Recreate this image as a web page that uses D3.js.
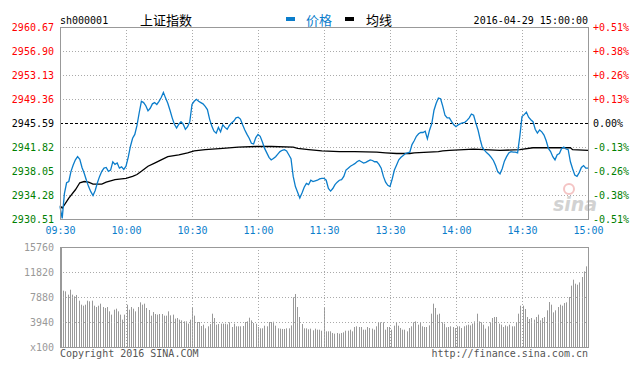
<!DOCTYPE html>
<html lang="zh-CN">
<head>
<meta charset="UTF-8">
<title>上证指数 分时</title>
<script src="https://cdn.jsdelivr.net/npm/d3@7"></script>
<style>
  body, html {margin: 0; padding: 0; background: #fff;}
  svg {display: block;}
  .mono {font-family: "DejaVu Sans Mono", monospace; font-size: 10px;}
  .cjk {font-family: "Noto Sans CJK SC", sans-serif; font-size: 13px;}
  .axis path.domain {display: none;}
</style>
</head>
<body>
<div id="chart"></div>
<script>
// price ticks (left) and percent labels (right)
const prevClose = 2945.59;
const priceTicks = [2960.67, 2956.90, 2953.13, 2949.36, 2945.59, 2941.82, 2938.05, 2934.28, 2930.51];
const pctLabels = ["+0.51%", "+0.38%", "+0.26%", "+0.13%", "0.00%", "-0.13%", "-0.26%", "-0.38%", "-0.51%"];

// time axis: minute index (0 = 09:30, 120 = 11:30/13:00, 240 = 15:00)
const timeTicks = [0, 30, 60, 90, 120, 150, 180, 210, 240];
const timeLabels = ["09:30", "10:00", "10:30", "11:00", "11:30", "13:30", "14:00", "14:30", "15:00"];

// volume ticks (x100)
const volTicks = [0, 3940, 7880, 11820, 15760];
const volLabels = ["x100", "3940", "7880", "11820", "15760"];

// minute price, 241 points
const price = [
  2932.5, 2930.6, 2934.5, 2936.2, 2936.4, 2938.0, 2939.0, 2939.8, 2940.3, 2939.9,
  2938.6, 2937.7, 2936.6, 2935.6, 2934.8, 2934.2, 2935.0, 2936.2, 2937.2, 2938.0,
  2938.5, 2938.6, 2938.0, 2938.2, 2939.5, 2939.1, 2939.3, 2938.5, 2938.7, 2938.3,
  2938.8, 2940.2, 2941.9, 2943.2, 2943.8, 2945.2, 2947.2, 2949.0, 2948.8, 2948.3,
  2947.5, 2947.9, 2948.6, 2948.8, 2948.5, 2949.0, 2949.6, 2950.4, 2949.5, 2948.7,
  2947.6, 2946.4, 2945.4, 2944.8, 2945.4, 2945.8, 2945.4, 2944.6, 2945.0, 2945.8,
  2948.5, 2949.0, 2949.3, 2949.0, 2948.8, 2948.6, 2948.2, 2947.7, 2946.2, 2945.1,
  2944.3, 2944.0, 2944.9, 2944.2, 2945.3, 2944.9, 2944.6, 2945.2, 2945.6, 2945.9,
  2946.4, 2946.5, 2946.2, 2945.3, 2944.5, 2943.8, 2943.2, 2942.4, 2942.3, 2943.3,
  2943.8, 2943.5, 2942.6, 2941.6, 2940.9, 2940.2, 2939.8, 2940.0, 2940.3, 2940.7,
  2941.1, 2941.3, 2941.4, 2941.2, 2940.6, 2940.0, 2937.2, 2935.6, 2934.7, 2933.8,
  2934.6, 2935.5, 2936.1, 2935.9, 2936.6, 2936.4, 2936.5, 2936.6, 2936.8, 2936.9,
  2936.9, 2936.6, 2935.3, 2934.9, 2935.3, 2935.9, 2936.3, 2936.6, 2936.7, 2937.2,
  2938.2, 2938.5, 2938.8, 2939.0, 2939.2, 2939.5, 2939.7, 2939.5, 2939.3, 2939.4,
  2939.6, 2939.8, 2939.7, 2939.5, 2939.5, 2939.1, 2938.5, 2937.2, 2936.3, 2935.8,
  2935.6, 2936.8, 2938.2, 2939.0, 2939.8, 2940.2, 2940.5, 2940.8, 2940.9, 2941.0,
  2942.2, 2942.8, 2943.5, 2943.9, 2944.1, 2944.1, 2944.3, 2943.1, 2944.5, 2945.5,
  2947.6, 2948.7, 2949.5, 2949.4, 2948.2, 2946.8, 2946.4, 2946.4, 2945.8, 2945.3,
  2945.0, 2945.3, 2945.5, 2945.6, 2945.7, 2946.0, 2946.4, 2947.0, 2946.8, 2945.6,
  2944.5, 2943.0, 2941.7, 2941.3, 2940.9, 2940.6, 2940.2, 2939.7, 2938.9, 2937.9,
  2937.6, 2938.4, 2939.6, 2940.3, 2940.9, 2941.1, 2941.0, 2941.0, 2940.9, 2943.5,
  2946.6, 2946.9, 2947.3, 2946.5, 2946.1, 2945.8, 2944.6, 2944.0, 2944.5, 2944.2,
  2943.7, 2942.8, 2941.6, 2941.1, 2940.3, 2939.8, 2940.6, 2940.8, 2941.6, 2941.8,
  2941.5, 2941.4, 2939.5, 2938.4, 2937.4, 2937.2, 2937.8, 2938.6, 2938.9, 2938.5, 2938.5
];

// average price line, read at a few minutes
const avgIdx = [0, 1, 4, 7, 9, 11, 13, 15, 19, 21, 25, 30, 33, 35, 37, 40, 43, 46, 49, 54, 58, 61, 66, 74, 81, 89, 96,
  106, 108, 113, 119, 127, 134, 144, 148, 153, 159, 161, 172, 174, 177, 188, 200, 209, 215, 232, 233, 240];
const avgVals = [2932.6, 2932.2, 2933.8, 2935.1, 2936.2, 2936.4, 2936.3, 2936.0, 2936.0, 2936.3, 2936.7, 2936.9, 2937.2, 2937.5,
  2938.0, 2938.8, 2939.3, 2939.8, 2940.3, 2940.6, 2940.9, 2941.2, 2941.4, 2941.6, 2941.8, 2941.9, 2941.9,
  2941.8, 2941.6, 2941.4, 2941.2, 2941.1, 2941.1, 2941.0, 2940.9, 2940.8, 2940.8, 2940.9, 2941.1, 2941.2,
  2941.3, 2941.5, 2941.3, 2941.4, 2941.7, 2941.7, 2941.4, 2941.3];

// minute volume (x100), 241 bars
const volume = [
  15760, 8880, 8770, 8250, 9030, 8250, 7990, 8200, 7300, 6670,
  6510, 6670, 7300, 7200, 7300, 6510, 6300, 6510, 6830, 6300,
  6150, 6300, 5620, 5100, 5880, 6040, 5620, 5100, 4310, 5100,
  6670, 5880, 6300, 6040, 5620, 6300, 7040, 6670, 6830, 6150,
  5830, 4940, 5510, 5200, 5100, 5200, 5200, 4940, 4940, 5620,
  4990, 5100, 4470, 4570, 4310, 4200, 4040, 4040, 3680, 4310,
  6300, 4940, 3940, 3940, 3310, 3520, 2940, 3260, 3620, 5250,
  4570, 3520, 3620, 3680, 3680, 3680, 3570, 3890, 3150, 3680,
  3260, 3260, 3260, 3310, 3940, 4040, 4620, 4200, 3780, 3680,
  3150, 2940, 2940, 3360, 3260, 3940, 3940, 3990, 3360, 2940,
  2890, 2840, 2840, 2940, 2940, 3410, 7830, 8350, 6300, 4730,
  3620, 2940, 2940, 2790, 2890, 2630, 2890, 2730, 2730, 2570,
  6200, 2470, 2470, 2470, 2210, 2100, 2210, 2100, 2210, 2310,
  2570, 2570, 2730, 2470, 3150, 3260, 3150, 3150, 2730, 2730,
  3150, 2990, 2890, 2730, 3260, 3890, 3890, 3890, 2730, 3150,
  3150, 2730, 3360, 3890, 3360, 2990, 2730, 2730, 2470, 2990,
  3260, 3890, 4040, 3520, 3780, 3260, 3150, 3150, 3410, 5250,
  6830, 6150, 5100, 5250, 3890, 3680, 3100, 3150, 3260, 3150,
  2990, 3260, 3260, 2990, 3260, 3410, 3520, 3410, 3680, 4040,
  5250, 4040, 3890, 3520, 2890, 3260, 3890, 4570, 4730, 4730,
  3680, 3520, 3150, 3410, 3260, 3520, 3260, 3260, 3890, 5250,
  6510, 6510, 5990, 4730, 4410, 4570, 4310, 4730, 5100, 4200,
  4570, 4730, 5780, 7090, 6670, 5460, 5780, 6300, 6670, 6510,
  6930, 7040, 7880, 9670, 10610, 9980, 9820, 10190, 11030, 11920,
  12710
];

const width = 644, height = 368;
const blue = "#0b7dcb", grid = "#aaa", frame = "#999";

const svg = d3.select("#chart").append("svg")
  .attr("width", width)
  .attr("height", height);

// scales
const x = d3.scaleLinear().domain([0, 240]).range([60, 588]);
const y = d3.scaleLinear().domain([2930.51, 2960.67]).range([219, 27]);
const xv = d3.scaleLinear().domain([0, 240]).range([61, 586]);
const yv = d3.scaleLinear().domain([0, 15760]).range([347, 247]);

const colorOf = v => v > prevClose + 0.001 ? "#f00" : (v < prevClose - 0.001 ? "#008000" : "#000");

// ---- header
svg.append("text").attr("class", "mono").attr("x", 60).attr("y", 24).text("sh000001");
svg.append("text").attr("class", "cjk").attr("x", 140).attr("y", 25).text("上证指数");
svg.append("rect").attr("x", 286).attr("y", 17).attr("width", 9).attr("height", 4).attr("fill", blue);
svg.append("text").attr("class", "cjk").attr("x", 306).attr("y", 25).attr("fill", blue).text("价格");
svg.append("rect").attr("x", 345).attr("y", 17).attr("width", 9).attr("height", 4).attr("fill", "#000");
svg.append("text").attr("class", "cjk").attr("x", 366).attr("y", 25).text("均线");
svg.append("text").attr("class", "mono").attr("x", 588).attr("y", 24)
  .attr("text-anchor", "end").text("2016-04-29 15:00:00");

// ---- price panel grid
const g = svg.append("g");
g.selectAll(".hgrid")
  .data(priceTicks.slice(1, -1))
  .enter().append("line")
  .attr("x1", x(0)).attr("x2", x(240))
  .attr("y1", d => Math.round(y(d)) + 0.5).attr("y2", d => Math.round(y(d)) + 0.5)
  .attr("stroke", d => d === prevClose ? "#000" : grid)
  .attr("stroke-dasharray", d => d === prevClose ? "3,2" : "1,2");

g.selectAll(".vgrid")
  .data(timeTicks.slice(1, -1))
  .enter().append("line")
  .attr("x1", d => Math.round(x(d)) + 0.5).attr("x2", d => Math.round(x(d)) + 0.5)
  .attr("y1", y(2960.67)).attr("y2", y(2930.51))
  .attr("stroke", grid)
  .attr("stroke-dasharray", "1,2");

// sina watermark
svg.append("circle").attr("cx", 569).attr("cy", 189).attr("r", 5)
  .attr("fill", "none").attr("stroke", "#f4c4c4").attr("stroke-width", 2);
svg.append("text").attr("x", 553).attr("y", 211)
  .attr("font-family", "DejaVu Sans, sans-serif").attr("font-size", 19)
  .attr("font-weight", "bold").attr("font-style", "italic")
  .attr("fill", "#d2d2d2").text("sina");

// average line
const avgData = avgIdx.map((d, i) => [d, avgVals[i]]);
g.append("path")
  .datum(avgData)
  .attr("fill", "none")
  .attr("stroke", "#000")
  .attr("stroke-width", 1.3)
  .attr("d", d3.line().x(d => x(d[0])).y(d => y(d[1])));

// price line
g.append("path")
  .datum(price)
  .attr("fill", "none")
  .attr("stroke", blue)
  .attr("stroke-width", 1.3)
  .attr("d", d3.line().x((d, i) => x(i)).y(d => y(d)));

// frame
svg.append("rect")
  .attr("x", x(0) + 0.5).attr("y", y(2960.67) + 0.5)
  .attr("width", x(240) - x(0)).attr("height", y(2930.51) - y(2960.67))
  .attr("fill", "none").attr("stroke", frame);

// left price axis
const leftAxis = svg.append("g")
  .attr("class", "axis mono")
  .attr("transform", `translate(${x(0)},0)`)
  .call(d3.axisLeft(y).tickValues(priceTicks).tickSize(0).tickPadding(6).tickFormat(d3.format(".2f")));
leftAxis.selectAll("text").attr("fill", d => colorOf(d)).style("font", "10px 'DejaVu Sans Mono', monospace");

// right percent axis
const rightAxis = svg.append("g")
  .attr("class", "axis mono")
  .attr("transform", `translate(${x(240)},0)`)
  .call(d3.axisRight(y).tickValues(priceTicks).tickSize(0).tickPadding(5)
    .tickFormat((d, i) => pctLabels[i]));
rightAxis.selectAll("text").attr("fill", d => colorOf(d)).style("font", "10px 'DejaVu Sans Mono', monospace");

// time axis
const timeAxis = svg.append("g")
  .attr("class", "axis")
  .attr("transform", `translate(0,${y(2930.51)})`)
  .call(d3.axisBottom(x).tickValues(timeTicks).tickSize(0).tickPadding(8)
    .tickFormat((d, i) => timeLabels[i]));
timeAxis.selectAll("text").attr("fill", blue).style("font", "10px 'DejaVu Sans Mono', monospace");

// ---- volume panel
const gv = svg.append("g");
gv.selectAll(".bar")
  .data(volume)
  .enter().append("rect")
  .attr("x", (d, i) => Math.round(xv(i)))
  .attr("y", d => yv(d))
  .attr("width", 1)
  .attr("height", d => yv(0) - yv(d))
  .attr("fill", "#999");

gv.selectAll(".vhgrid")
  .data(volTicks.slice(1, -1))
  .enter().append("line")
  .attr("x1", x(0)).attr("x2", x(240))
  .attr("y1", d => Math.round(yv(d)) + 0.5).attr("y2", d => Math.round(yv(d)) + 0.5)
  .attr("stroke", grid).attr("stroke-dasharray", "1,2");

gv.selectAll(".vvgrid")
  .data(timeTicks.slice(1, -1))
  .enter().append("line")
  .attr("x1", d => Math.round(x(d)) + 0.5).attr("x2", d => Math.round(x(d)) + 0.5)
  .attr("y1", yv(15760)).attr("y2", yv(0))
  .attr("stroke", grid).attr("stroke-dasharray", "1,2");

svg.append("rect")
  .attr("x", x(0) + 0.5).attr("y", yv(15760) + 0.5)
  .attr("width", x(240) - x(0)).attr("height", yv(0) - yv(15760))
  .attr("fill", "none").attr("stroke", frame);

const volAxis = svg.append("g")
  .attr("class", "axis")
  .attr("transform", `translate(${x(0)},0)`)
  .call(d3.axisLeft(yv).tickValues(volTicks).tickSize(0).tickPadding(6)
    .tickFormat((d, i) => volLabels[i]));
volAxis.selectAll("text").attr("fill", "#999").style("font", "10px 'DejaVu Sans Mono', monospace");

// ---- footer
svg.append("text").attr("class", "mono").attr("x", 60).attr("y", 357)
  .attr("fill", "#555").text("Copyright 2016 SINA.COM");
svg.append("text").attr("class", "mono").attr("x", 588).attr("y", 357)
  .attr("text-anchor", "end").attr("fill", "#555").text("http://finance.sina.com.cn");
</script>
</body>
</html>
